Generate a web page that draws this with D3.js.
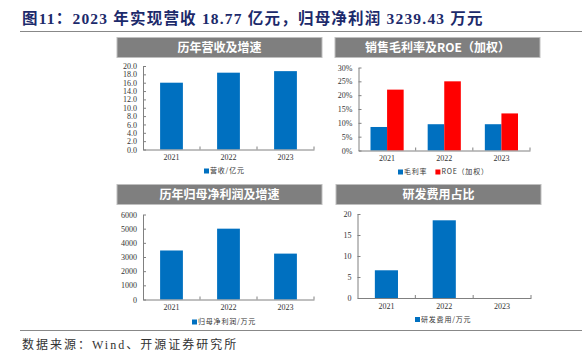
<!DOCTYPE html>
<html>
<head>
<meta charset="utf-8">
<script src="https://cdn.jsdelivr.net/npm/d3@7"></script>
<style>
  body { margin: 0; background: #fff; }
  svg { display: block; }
</style>
</head>
<body>
<div id="chart"></div>
<script>
const years = ["2021", "2022", "2023"];

// 营收 (亿元)
const revenue = [16.0, 18.4, 18.77];
const revenueTicks = [0, 2, 4, 6, 8, 10, 12, 14, 16, 18, 20];

// 毛利率 / ROE (%)
const grossMargin = [8.5, 9.5, 9.5];
const roe = [22.0, 25.0, 13.4];
const pctTicks = [0, 5, 10, 15, 20, 25, 30];

// 归母净利润 (万元)
const netProfit = [3460, 5000, 3239.43];
const profitTicks = [0, 1000, 2000, 3000, 4000, 5000, 6000];

// 研发费用
const rdExpense = [6.6, 18.5, 0];
const rdTicks = [0, 5, 10, 15, 20];

const W = 582, H = 352;
const blue = "#0070C0", red = "#FF0000";
const serif = "'Liberation Serif', 'Times New Roman', serif";
const cjk = "'Noto Sans CJK SC', sans-serif";

const svg = d3.select("#chart").append("svg")
  .attr("width", W).attr("height", H);

// title
svg.append("text")
  .attr("x", 22).attr("y", 24)
  .attr("font-family", serif + ", 'Noto Sans CJK SC'")
  .attr("font-weight", "bold")
  .attr("font-size", 15.5)
  .attr("letter-spacing", 1.2)
  .attr("fill", "#1c2a6b")
  .text("图11：2023 年实现营收 18.77 亿元，归母净利润 3239.43 万元");

svg.append("line").attr("x1", 20).attr("x2", W).attr("y1", 31.5).attr("y2", 31.5)
  .attr("stroke", "#888").attr("stroke-width", 1.2);
svg.append("line").attr("x1", 20).attr("x2", W).attr("y1", 330.5).attr("y2", 330.5)
  .attr("stroke", "#888").attr("stroke-width", 1.2);

svg.append("text")
  .attr("x", 22).attr("y", 349)
  .attr("font-family", serif + ", 'Noto Sans CJK SC'")
  .attr("font-size", 12)
  .attr("letter-spacing", 2)
  .attr("fill", "#333")
  .text("数据来源：Wind、开源证券研究所");

function header(x, y, w, h, label) {
  svg.append("rect").attr("x", x).attr("y", y).attr("width", w).attr("height", h)
    .attr("fill", "#7f7f7f").attr("stroke", "#bfbfbf").attr("stroke-width", 1);
  svg.append("text").attr("x", x + w / 2).attr("y", y + h / 2)
    .attr("dy", "0.36em").attr("text-anchor", "middle")
    .attr("font-family", cjk).attr("font-weight", "bold")
    .attr("font-size", 12).attr("fill", "#fff").text(label);
}

// generic bar panel
function panel(cfg) {
  const g = svg.append("g");
  const y = d3.scaleLinear().domain(cfg.domain).range([cfg.y0, cfg.y1]);
  const xb = d3.scaleBand().domain(years).range([cfg.x0, cfg.x1]);
  const xo = d3.scaleBand().domain(years).range([cfg.x0, cfg.x1])
    .paddingInner(cfg.pad).paddingOuter(cfg.pad / 2);
  const xi = d3.scaleBand().domain(cfg.series.map((s) => s.name))
    .range([0, xo.bandwidth()]);

  cfg.series.forEach((s) => {
    g.selectAll(null).data(years).enter().append("rect")
      .attr("x", (d) => xo(d) + xi(s.name))
      .attr("width", xi.bandwidth())
      .attr("y", (d, i) => y(s.values[i]))
      .attr("height", (d, i) => y(0) - y(s.values[i]))
      .attr("fill", s.color);
  });

  // y axis
  const ya = g.append("g").attr("transform", `translate(${cfg.x0},0)`)
    .call(d3.axisLeft(y).tickValues(cfg.ticks).tickFormat(cfg.fmt)
      .tickSize(-3).tickSizeOuter(0).tickPadding(6));
  ya.select(".domain").attr("stroke", "#808080");
  ya.selectAll(".tick line").attr("stroke", "#808080");
  ya.selectAll("text").attr("font-family", serif).attr("font-size", 8).attr("fill", "#333");

  // x axis
  const xa = g.append("g").attr("transform", `translate(0,${cfg.y0})`)
    .call(d3.axisBottom(xb).tickSize(0).tickPadding(5));
  xa.select(".domain").attr("stroke", "#808080");
  xa.selectAll("text").attr("font-family", serif).attr("font-size", 8).attr("fill", "#333");
  g.selectAll(null).data(years).enter().append("line")
    .attr("x1", (d) => xb(d) + xb.bandwidth()).attr("x2", (d) => xb(d) + xb.bandwidth())
    .attr("y1", cfg.y0).attr("y2", cfg.y0 - 3)
    .attr("stroke", "#808080");

  // legend
  const lg = g.append("g");
  let lx = cfg.legendX;
  cfg.series.forEach((s) => {
    lg.append("rect").attr("x", lx).attr("y", cfg.legendY - 2.5)
      .attr("width", 5).attr("height", 5).attr("fill", s.color);
    const t = lg.append("text").attr("x", lx + 6).attr("y", cfg.legendY)
      .attr("dy", "0.35em").attr("font-family", cjk).attr("font-size", 7)
      .attr("letter-spacing", 0.8)
      .attr("fill", "#333").text(s.label);
    lx += 6 + t.node().getComputedTextLength() + 8;
  });
}

header(117, 37.5, 205, 20, "历年营收及增速");
header(335, 37.5, 205, 20, "销售毛利率及ROE（加权）");
header(117, 184.5, 205, 20, "历年归母净利润及增速");
header(336, 184.5, 205, 20, "研发费用占比");

panel({
  x0: 143, x1: 314, y0: 149.5, y1: 66, domain: [0, 20], pad: 0.6,
  ticks: revenueTicks, fmt: d3.format(".1f"),
  series: [{ name: "rev", label: "营收/亿元", values: revenue, color: blue }],
  legendX: 204, legendY: 171
});

panel({
  x0: 358.5, x1: 530, y0: 150.5, y1: 67.5, domain: [0, 30], pad: 0.42,
  ticks: pctTicks, fmt: (d) => d + "%",
  series: [
    { name: "gm", label: "毛利率", values: grossMargin, color: blue },
    { name: "roe", label: "ROE（加权）", values: roe, color: red }
  ],
  legendX: 398, legendY: 172
});

panel({
  x0: 143, x1: 314, y0: 299.5, y1: 214.5, domain: [0, 6000], pad: 0.6,
  ticks: profitTicks, fmt: d3.format("d"),
  series: [{ name: "np", label: "归母净利润/万元", values: netProfit, color: blue }],
  legendX: 192, legendY: 322
});

panel({
  x0: 357.5, x1: 531, y0: 298, y1: 214, domain: [0, 20], pad: 0.6,
  ticks: rdTicks, fmt: d3.format("d"),
  series: [{ name: "rd", label: "研发费用/万元", values: rdExpense, color: blue }],
  legendX: 415, legendY: 319.5
});
</script>
</body>
</html>
